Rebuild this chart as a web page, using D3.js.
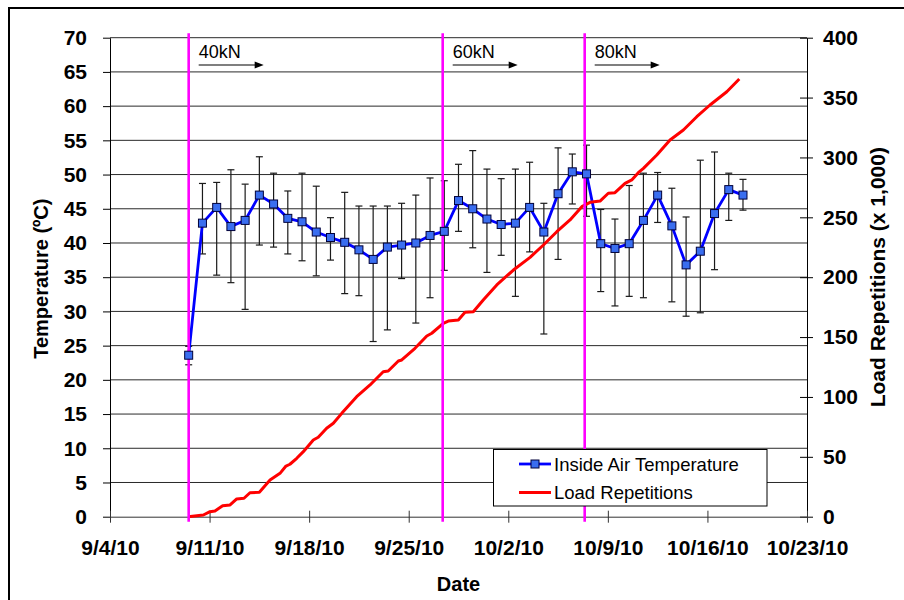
<!DOCTYPE html>
<html>
<head>
<meta charset="utf-8">
<script src="https://cdn.jsdelivr.net/npm/d3@7"></script>
<style>
  html, body { margin: 0; padding: 0; background: #fff; }
  svg { display: block; font-family: "Liberation Sans", Arial, sans-serif; }
</style>
</head>
<body>
<svg id="chart" width="904" height="600"></svg>
<script>
// ---------------- DATA ----------------
const xTickLabels = ["9/4/10","9/11/10","9/18/10","9/25/10","10/2/10","10/9/10","10/16/10","10/23/10"];
const tempTicks = [0,5,10,15,20,25,30,35,40,45,50,55,60,65,70];
const loadTicks = [0,50,100,150,200,250,300,350,400];

// Inside air temperature: daily mean with max/min error bars
const tempDates = [
  "2010-09-09T12:45","2010-09-10T12:00","2010-09-11T12:00","2010-09-12T12:00","2010-09-13T12:00",
  "2010-09-14T12:00","2010-09-15T12:00","2010-09-16T12:00","2010-09-17T12:00","2010-09-18T12:00",
  "2010-09-19T12:00","2010-09-20T12:00","2010-09-21T12:00","2010-09-22T12:00","2010-09-23T12:00",
  "2010-09-24T12:00","2010-09-25T12:00","2010-09-26T12:00","2010-09-27T12:00","2010-09-28T12:00",
  "2010-09-29T12:00","2010-09-30T12:00","2010-10-01T12:00","2010-10-02T12:00","2010-10-03T12:00",
  "2010-10-04T12:00","2010-10-05T12:00","2010-10-06T12:00","2010-10-07T12:00","2010-10-08T12:00",
  "2010-10-09T12:00","2010-10-10T12:00","2010-10-11T12:00","2010-10-12T12:00","2010-10-13T12:00",
  "2010-10-14T12:00","2010-10-15T12:00","2010-10-16T12:00","2010-10-17T12:00","2010-10-18T12:00"
];
const tempMean = [23.6,42.9,45.2,42.4,43.3,47.0,45.7,43.6,43.1,41.6,
                  40.8,40.1,39.0,37.6,39.4,39.7,40.0,41.1,41.7,46.2,
                  45.0,43.5,42.7,42.9,45.2,41.6,47.2,50.4,50.1,39.9,
                  39.2,39.9,43.3,47.0,42.5,36.8,38.8,44.3,47.8,47.0];
const tempMax  = [24.9,48.7,48.85,50.7,48.6,52.6,50.2,47.6,50.2,48.3,
                  43.7,47.4,45.4,45.4,45.4,45.8,47.0,49.5,49.1,51.5,
                  53.5,50.8,49.4,50.8,51.8,45.8,53.9,53.0,54.3,44.9,
                  43.5,48.4,50.2,50.3,48.0,43.8,52.1,53.3,50.2,49.3];
const tempMin  = [22.2,38.4,35.3,34.2,30.3,39.7,39.4,38.4,37.4,35.2,
                  37.5,32.6,32.3,25.6,27.3,34.8,28.3,32.0,36.0,41.7,
                  39.3,35.7,38.2,32.2,38.7,26.7,37.6,45.7,43.9,32.9,
                  30.8,32.2,32.0,43.0,31.4,29.3,29.8,36.1,43.3,44.8];

// Cumulative load repetitions (x 1,000)
const loadDates = [
  "2010-09-09T12:00","2010-09-10T13:25","2010-09-11T00:45","2010-09-11T09:05","2010-09-11T22:05",
  "2010-09-12T10:35","2010-09-12T21:50","2010-09-13T10:05","2010-09-13T20:10","2010-09-14T12:00",
  "2010-09-15T06:00","2010-09-15T22:50","2010-09-16T08:55","2010-09-16T15:35","2010-09-17T03:05",
  "2010-09-17T14:10","2010-09-18T07:00","2010-09-18T15:20","2010-09-19T05:30","2010-09-19T16:50",
  "2010-09-20T07:00","2010-09-21T08:10","2010-09-22T06:45","2010-09-23T05:00","2010-09-23T13:25",
  "2010-09-24T06:30","2010-09-24T12:15","2010-09-25T10:35","2010-09-26T06:30","2010-09-26T14:55",
  "2010-09-27T10:20","2010-09-27T18:45","2010-09-28T11:45","2010-09-28T23:00","2010-09-29T13:00",
  "2010-09-30T05:45","2010-10-01T04:35","2010-10-02T08:40","2010-10-03T12:45","2010-10-04T11:15",
  "2010-10-05T09:50","2010-10-06T08:10","2010-10-07T04:05","2010-10-07T18:00","2010-10-08T10:50",
  "2010-10-09T00:45","2010-10-09T12:00","2010-10-10T05:00","2010-10-10T16:20","2010-10-11T03:20",
  "2010-10-11T12:00","2010-10-12T10:35","2010-10-13T08:55","2010-10-14T07:25","2010-10-15T06:00",
  "2010-10-16T04:20","2010-10-17T08:40","2010-10-18T05:45"
];
const loadReps = [0,1.4,4.2,4.8,9.2,9.8,14.8,15.4,20.0,20.4,
                  30.6,36.2,42.3,43.8,48.8,54.3,64.0,66.3,73.8,78.0,
                  86.3,100.2,110.0,121.1,121.7,130.0,130.9,140.6,150.9,153.2,
                  161.5,163.4,164.3,170.7,171.2,181.0,193.5,206.0,216.6,226.9,
                  238.0,247.8,258.9,262.5,263.6,270.1,270.6,278.4,281.2,287.3,
                  290.9,302.0,314.6,322.9,334.0,343.8,354.9,365.5];

// Load level changes
const loadChangeDates = ["2010-09-09T12:45","2010-09-27T09:20","2010-10-07T08:55"];
const loadChangeLabels = ["40kN","60kN","80kN"];

const seriesNames = ["Inside Air Temperature","Load Repetitions"];

// ---------------- CHART ----------------
const parseT = d3.timeParse("%Y-%m-%dT%H:%M");
const parseTick = d3.timeParse("%m/%d/%y");
const fmtTick = d3.timeFormat("%-m/%-d/%y");

const svg = d3.select("#chart");
const m = {left: 110, right: 807, top: 37.7, bottom: 516.7};

const xTicks = xTickLabels.map(parseTick);
const x = d3.scaleTime().domain([xTicks[0], xTicks[xTicks.length-1]]).range([m.left, m.right]);
const yT = d3.scaleLinear().domain([0,70]).range([m.bottom, m.top]);
const yL = d3.scaleLinear().domain([0,400]).range([m.bottom, m.top]);

const temp = tempDates.map((d,i) => ({date: parseT(d), mean: tempMean[i], hi: tempMax[i], lo: tempMin[i]}));
const load = loadDates.map((d,i) => ({date: parseT(d), v: loadReps[i]}));

// outer frame
svg.append("line").attr("x1",9).attr("x2",9).attr("y1",8).attr("y2",600).attr("stroke","#000").attr("stroke-width",2);
svg.append("line").attr("x1",8).attr("x2",904).attr("y1",8).attr("y2",8).attr("stroke","#000").attr("stroke-width",2);

// gridlines
svg.append("g").selectAll("line").data(tempTicks.filter(t => t > 0)).join("line")
  .attr("x1", m.left).attr("x2", m.right)
  .attr("y1", d => yT(d)).attr("y2", d => yT(d))
  .attr("stroke", "#2a2a2a").attr("stroke-width", 1);

const tickFont = g => g.selectAll("text")
  .attr("font-family", "'Liberation Sans', Arial, sans-serif")
  .attr("font-size", 21).attr("font-weight", "bold").attr("fill", "#000");

// left axis
const gl = svg.append("g").attr("transform", `translate(${m.left},0)`)
  .call(d3.axisLeft(yT).tickValues(tempTicks).tickSizeInner(7).tickSizeOuter(0).tickPadding(16));
gl.call(tickFont);
gl.selectAll("line, path").attr("stroke", "#000");

// right axis
const gr = svg.append("g").attr("transform", `translate(${m.right},0)`)
  .call(d3.axisRight(yL).tickValues(loadTicks).tickSizeInner(6).tickSizeOuter(0).tickPadding(10));
gr.call(tickFont);
gr.selectAll(".tick line").attr("x1", -7).attr("x2", 6);
gr.selectAll("line, path").attr("stroke", "#000");

// bottom axis
const gb = svg.append("g").attr("transform", `translate(0,${m.bottom})`)
  .call(d3.axisBottom(x).tickValues(xTicks).tickFormat(fmtTick).tickSizeInner(6).tickSizeOuter(0).tickPadding(0));
gb.call(tickFont);
gb.selectAll(".tick line").attr("y1", -6).attr("y2", 6);
gb.selectAll(".tick text").attr("dy", null).attr("y", 38);
gb.selectAll("line, path").attr("stroke", "#333");

// axis titles
svg.append("text").attr("transform", `translate(40.5,${(m.top+m.bottom)/2 + 1.5}) rotate(-90)`)
  .attr("text-anchor","middle").attr("dy","0.35em")
  .attr("font-size", 20).attr("font-weight","bold").text("Temperature (ºC)");
svg.append("text").attr("transform", `translate(878,${(m.top+m.bottom)/2}) rotate(-90)`)
  .attr("text-anchor","middle").attr("dy","0.35em")
  .attr("font-size", 21).attr("font-weight","bold").text("Load Repetitions (x 1,000)");
svg.append("text").attr("x", (m.left+m.right)/2).attr("y", 590.5)
  .attr("text-anchor","middle").attr("font-size", 20).attr("font-weight","bold").text("Date");

// error bars
const eb = svg.append("g").attr("stroke","#1a1a1a").attr("stroke-width",1.2);
eb.selectAll(".v").data(temp).join("line")
  .attr("x1", d => x(d.date)).attr("x2", d => x(d.date))
  .attr("y1", d => yT(d.hi)).attr("y2", d => yT(d.lo));
eb.selectAll(".ct").data(temp).join("line")
  .attr("x1", d => x(d.date)-3.5).attr("x2", d => x(d.date)+3.5)
  .attr("y1", d => yT(d.hi)).attr("y2", d => yT(d.hi));
eb.selectAll(".cb").data(temp).join("line")
  .attr("x1", d => x(d.date)-3.5).attr("x2", d => x(d.date)+3.5)
  .attr("y1", d => yT(d.lo)).attr("y2", d => yT(d.lo));

// temperature line
svg.append("path").datum(temp)
  .attr("fill","none").attr("stroke","#0000FF").attr("stroke-width",2.8).attr("stroke-linejoin","round")
  .attr("d", d3.line().x(d => x(d.date)).y(d => yT(d.mean)));

// load line
svg.append("path").datum(load)
  .attr("fill","none").attr("stroke","#FF0000").attr("stroke-width",3).attr("stroke-linejoin","round")
  .attr("d", d3.line().x(d => x(d.date)).y(d => yL(d.v)));

// load change lines
const changes = loadChangeDates.map((d,i) => ({date: parseT(d), label: loadChangeLabels[i]}));
svg.append("g").selectAll("line").data(changes).join("line")
  .attr("x1", d => x(d.date)).attr("x2", d => x(d.date))
  .attr("y1", m.top - 4.5).attr("y2", m.bottom + 5)
  .attr("stroke","#FF00FF").attr("stroke-width",2.6);

// markers
svg.append("g").selectAll("rect").data(temp).join("rect")
  .attr("x", d => x(d.date)-4).attr("y", d => yT(d.mean)-4)
  .attr("width", 8).attr("height", 8)
  .attr("fill","#3A6EF0").attr("stroke","#00003a").attr("stroke-width",1);

// annotations
const ann = svg.append("g").selectAll("g").data(changes).join("g")
  .attr("transform", d => `translate(${x(d.date)+10},0)`);
ann.append("text").attr("x",0).attr("y",58).attr("font-size",18).text(d => d.label);
ann.append("line").attr("x1",0).attr("x2",57).attr("y1",65).attr("y2",65).attr("stroke","#000").attr("stroke-width",1.2);
ann.append("path").attr("d","M56,61.5 L65,65 L56,68.5 Z").attr("fill","#000");

// legend
const lg = svg.append("g");
lg.append("rect").attr("x",493.5).attr("y",449.5).attr("width",273.5).attr("height",56.5)
  .attr("fill","#fff").attr("stroke","#000").attr("stroke-width",1);
lg.append("line").attr("x1",519).attr("x2",551).attr("y1",464).attr("y2",464).attr("stroke","#0000FF").attr("stroke-width",2.8);
lg.append("rect").attr("x",531).attr("y",460).attr("width",8).attr("height",8)
  .attr("fill","#3A6EF0").attr("stroke","#00003a").attr("stroke-width",1);
lg.append("line").attr("x1",519).attr("x2",551).attr("y1",492.5).attr("y2",492.5).attr("stroke","#FF0000").attr("stroke-width",3);
lg.append("text").attr("x",554).attr("y",470.5).attr("font-size",18.5).text(seriesNames[0]);
lg.append("text").attr("x",554).attr("y",499).attr("font-size",18.5).text(seriesNames[1]);
</script>
</body>
</html>
